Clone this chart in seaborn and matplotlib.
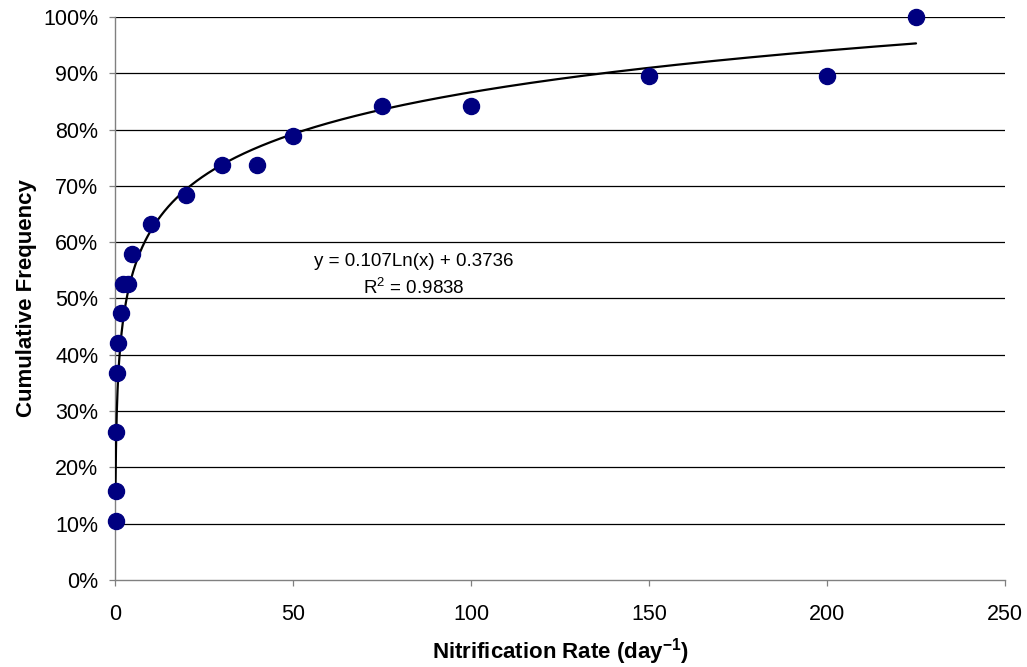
import numpy as np
import pandas as pd
import matplotlib
matplotlib.use("Agg")
import matplotlib.pyplot as plt
from matplotlib.ticker import PercentFormatter, MultipleLocator
import seaborn as sns

# Nitrification rates (day^-1) and their cumulative frequency
rate = [0.15, 0.2, 0.3, 0.6, 0.9, 1.6, 2.3, 3.7, 4.8, 10, 20, 30, 40, 50,
        75, 100, 150, 200, 225]
cum_freq = [0.105, 0.158, 0.263, 0.368, 0.421, 0.474, 0.526, 0.526, 0.579,
            0.632, 0.684, 0.737, 0.737, 0.789, 0.842, 0.842, 0.895, 0.895, 1.0]

# Logarithmic trendline coefficients
slope = 0.107
intercept = 0.3736
r_squared = 0.9838

x_ticks = [0, 50, 100, 150, 200, 250]

sns.set_style("white")
plt.rcParams["font.family"] = ["Liberation Sans", "DejaVu Sans"]
plt.rcParams["mathtext.fontset"] = "custom"
plt.rcParams["mathtext.rm"] = "Liberation Sans"
plt.rcParams["mathtext.bf"] = "Liberation Sans:bold"
plt.rcParams["text.color"] = "black"
plt.rcParams["axes.labelcolor"] = "black"
plt.rcParams["xtick.color"] = "black"
plt.rcParams["ytick.color"] = "black"

df = pd.DataFrame({"rate": rate, "freq": cum_freq})
fit_x = np.linspace(min(rate), max(rate), 2000)
fit = pd.DataFrame({"rate": fit_x, "freq": slope * np.log(fit_x) + intercept})

fig = plt.figure(figsize=(10.27, 6.67), dpi=100)
ax = fig.add_axes([0.112, 0.1305, 0.8666, 0.844])

for yv in np.arange(0.1, 1.01, 0.1):
    ax.axhline(yv, color="black", lw=0.9, zorder=0)

sns.lineplot(data=fit, x="rate", y="freq", color="black", lw=1.6, ax=ax,
             zorder=3)
sns.scatterplot(data=df, x="rate", y="freq", color="#000080",
                edgecolor="#000080", s=135, ax=ax, zorder=4, clip_on=False)

ax.set_xlim(0, 250)
ax.set_ylim(0, 1.0)
ax.set_xticks(x_ticks)
ax.yaxis.set_major_locator(MultipleLocator(0.1))
ax.yaxis.set_major_formatter(PercentFormatter(1.0, decimals=0))

for side in ("top", "right"):
    ax.spines[side].set_visible(False)
for side in ("left", "bottom"):
    ax.spines[side].set_color("#808080")
    ax.spines[side].set_linewidth(1.0)

ax.tick_params(axis="both", direction="out", length=4, width=0.9,
               color="#808080", labelsize=15.5, labelcolor="black",
               left=True, bottom=True)
ax.tick_params(axis="x", pad=13)
ax.tick_params(axis="y", pad=8)

ax.set_xlabel(r"Nitrification Rate (day$^{\mathbf{-1}}$)", fontsize=16,
              fontweight="bold")
ax.set_ylabel("Cumulative Frequency", fontsize=16, fontweight="bold")
ax.xaxis.set_label_coords(0.5, -0.099)
ax.yaxis.set_label_coords(-0.088, 0.5)

ax.text(0.336, 0.541, f"y = {slope}Ln(x) + {intercept}\nR$^2$ = {r_squared}",
        transform=ax.transAxes, ha="center", va="center", fontsize=13.5,
        linespacing=1.4)

fig.savefig("out.png", dpi=100)
